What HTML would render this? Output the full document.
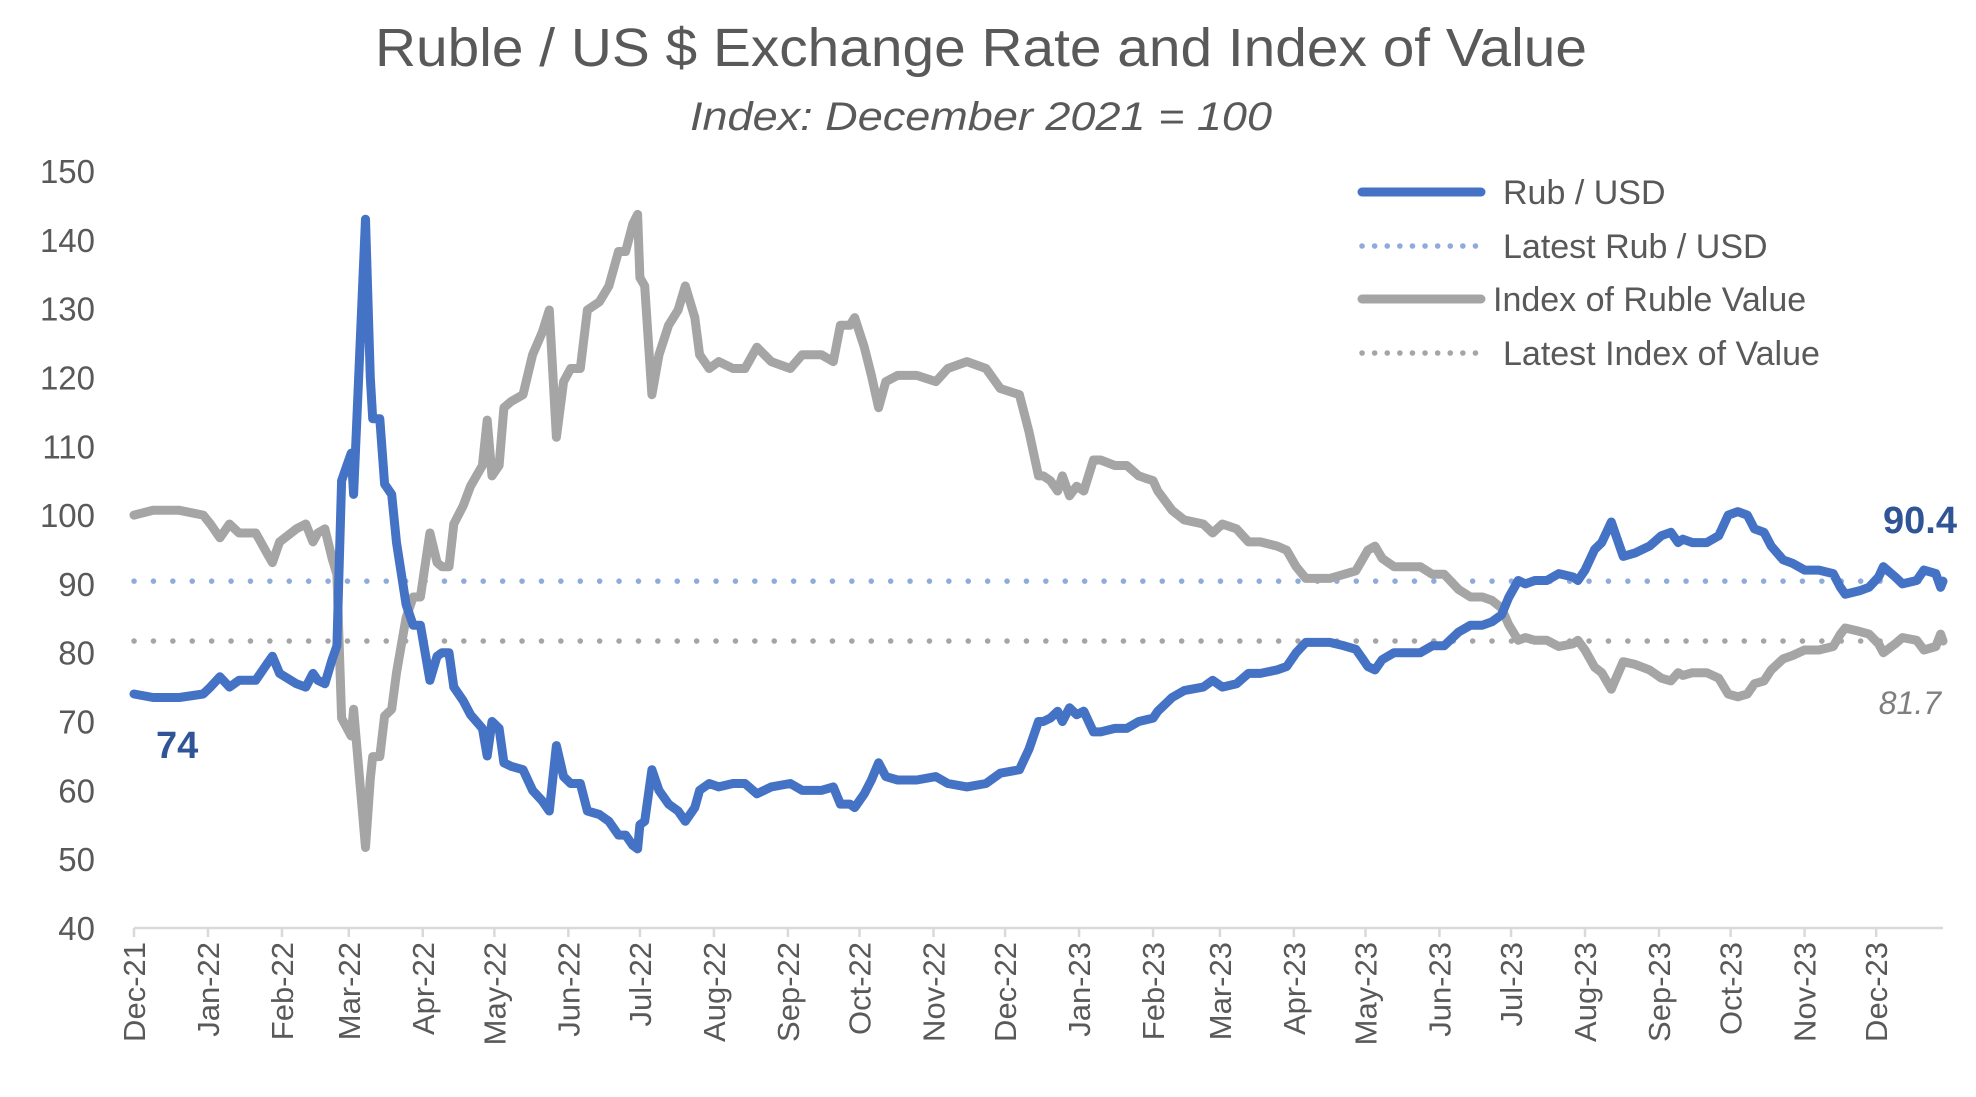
<!DOCTYPE html>
<html><head><meta charset="utf-8"><style>
html,body{margin:0;padding:0;background:#fff;}
svg{display:block;font-family:"Liberation Sans",sans-serif;}
</style></head><body>
<svg id="chart" width="1976" height="1097" viewBox="0 0 1976 1097" xmlns="http://www.w3.org/2000/svg">
<text x="981" y="66" text-anchor="middle" font-size="54" fill="#595959" textLength="1212" lengthAdjust="spacingAndGlyphs">Ruble / US $ Exchange Rate and Index of Value</text>
<text x="981" y="130" text-anchor="middle" font-size="40" font-style="italic" fill="#595959" textLength="582" lengthAdjust="spacingAndGlyphs">Index: December 2021 = 100</text>
<g id="axes"></g>
<g id="series"></g>
<g>
<g><line x1="1362" y1="192" x2="1481" y2="192" stroke="#4472C4" stroke-width="9" stroke-linecap="round"/><text x="1503" y="204" font-size="34" fill="#595959">Rub / USD</text></g>
<g><line x1="1362" y1="246" x2="1481" y2="246" stroke="#8FAADC" stroke-width="5.5" stroke-linecap="round" stroke-dasharray="0.1 12.5"/><text x="1503" y="258" font-size="34" fill="#595959">Latest Rub / USD</text></g>
<g><line x1="1362" y1="299" x2="1481" y2="299" stroke="#A5A5A5" stroke-width="9" stroke-linecap="round"/><text x="1493" y="311" font-size="34" fill="#595959">Index of Ruble Value</text></g>
<g><line x1="1362" y1="353" x2="1481" y2="353" stroke="#A5A5A5" stroke-width="5.5" stroke-linecap="round" stroke-dasharray="0.1 12.5"/><text x="1503" y="365" font-size="34" fill="#595959">Latest Index of Value</text></g>
</g>
<text x="156" y="758" font-size="38" font-weight="bold" fill="#2F5597">74</text>
<text x="1957" y="533" text-anchor="end" font-size="38" font-weight="bold" fill="#2F5597">90.4</text>
<text x="1941" y="714" text-anchor="end" font-size="32" font-style="italic" fill="#7F7F7F">81.7</text>
</svg>
<script>
const days = [0,8,19,29,32,36,40,44,51,56,58,61,68,72,75,77,80,83,85,87,89,91,92,97,99,100,103,105,108,110,114,117,120,124,127,129,132,134,138,141,146,148,150,153,155,158,163,167,171,174,177,180,183,187,190,195,199,203,206,209,211,212,214,217,220,224,228,231,235,237,241,245,251,256,261,267,275,280,288,293,296,300,302,306,309,312,315,320,328,336,341,349,357,363,371,375,379,381,384,387,389,392,395,398,402,405,411,416,421,427,429,435,440,448,452,456,462,467,472,479,483,487,491,496,501,507,512,515,517,520,523,528,539,544,549,555,560,565,569,573,576,580,583,587,592,597,603,605,608,612,615,619,621,624,629,635,640,644,647,649,653,659,664,668,672,676,679,683,686,691,695,700,706,712,715,717,723,727,731,733,738,741,747,750,755,757,758];
const rubUsd = [74,73.5,73.5,74,75,76.5,75,76,76,78.5,79.5,77,75.5,75,77,76,75.5,79,81,105,107,109,103,143,120,114,114,104.5,103,96,87,84,84,76,79.5,80,80,75,73,71,69,65,70,69,64,63.5,63,60,58.5,57,66.5,62,61,61,57,56.5,55.5,53.5,53.5,52,51.5,55,55.5,63,60,58,57,55.5,57.5,60,61,60.5,61,61,59.5,60.5,61,60,60,60.5,58,58,57.5,59.5,61.5,64,62,61.5,61.5,62,61,60.5,61,62.5,63,66,70,70,70.5,71.5,70,72,71,71.5,68.5,68.5,69,69,70,70.5,71.5,73.5,74.5,75,76,75,75.5,77,77,77.5,78,80,81.5,81.5,81.5,81,80.5,79,78,77.5,79,80,80,81,81,83,84,84,84.5,85.5,88,90.5,90,90.5,90.5,91.5,91,90.5,92,95,96,99,97,94,94.5,95.5,97,97.5,96,96.5,96,96,97,100,100.5,100,98,97.5,95.5,93.5,93,92,92,91.5,89.5,88.5,89,89.5,91,92.5,91,90,90.5,92,91.5,89.5,90.4];
const indexValue = [100,100.7,100.7,100,98.7,96.7,98.7,97.4,97.4,94.3,93.1,96.1,98,98.7,96.1,97.4,98,93.7,91.4,70.5,69.2,67.9,71.8,51.7,61.7,64.9,64.9,70.8,71.8,77.1,85.1,88.1,88.1,97.4,93.1,92.5,92.5,98.7,101.4,104.2,107.2,113.8,105.7,107.2,115.6,116.5,117.5,123.3,126.5,129.8,111.3,119.4,121.3,121.3,129.8,131,133.3,138.3,138.3,142.3,143.7,134.5,133.3,117.5,123.3,127.6,129.8,133.3,128.7,123.3,121.3,122.3,121.3,121.3,124.4,122.3,121.3,123.3,123.3,122.3,127.6,127.6,128.7,124.4,120.3,115.6,119.4,120.3,120.3,119.4,121.3,122.3,121.3,118.4,117.5,112.1,105.7,105.7,105,103.5,105.7,102.8,104.2,103.5,108,108,107.2,107.2,105.7,105,103.5,100.7,99.3,98.7,97.4,98.7,98,96.1,96.1,95.5,94.9,92.5,90.8,90.8,90.8,91.4,91.9,93.7,94.9,95.5,93.7,92.5,92.5,91.4,91.4,89.2,88.1,88.1,87.6,86.5,84.1,81.8,82.2,81.8,81.8,80.9,81.3,81.8,80.4,77.9,77.1,74.7,76.3,78.7,78.3,77.5,76.3,75.9,77.1,76.7,77.1,77.1,76.3,74,73.6,74,75.5,75.9,77.5,79.1,79.6,80.4,80.4,80.9,82.7,83.6,83.1,82.7,81.3,80,81.3,82.2,81.8,80.4,80.9,82.7,81.7];
const latestRub = 90.4;
const latestIndex = 81.7;
const yTicks = [40,50,60,70,80,90,100,110,120,130,140,150];
const monthLabels = ["Dec-21","Jan-22","Feb-22","Mar-22","Apr-22","May-22","Jun-22","Jul-22","Aug-22","Sep-22","Oct-22","Nov-22","Dec-22","Jan-23","Feb-23","Mar-23","Apr-23","May-23","Jun-23","Jul-23","Aug-23","Sep-23","Oct-23","Nov-23","Dec-23"];
const monthDays = [0,31,62,90,121,151,182,212,243,274,304,335,365,396,427,455,486,516,547,577,608,639,669,700,730];

const NS = "http://www.w3.org/2000/svg";
const X0 = 134, X1 = 1943, D1 = 758;
const Y0 = 928, Y1 = 171;
function xScale(d){ return X0 + (d / D1) * (X1 - X0); }
function yScale(v){ return Y0 - (v - 40) / 110 * (Y0 - Y1); }
function mk(tag, attrs, parent){ const e = document.createElementNS(NS, tag); for (const k in attrs) e.setAttribute(k, attrs[k]); parent.appendChild(e); return e; }

const axes = document.getElementById("axes");
const series = document.getElementById("series");

yTicks.forEach(v => {
  const t = mk("text", {x: 95, y: yScale(v) + 12, "text-anchor": "end", "font-size": 33, fill: "#595959"}, axes);
  
  
  t.textContent = v;
});
const axisLine = mk("line", {x1: X0, y1: Y0, x2: X1, y2: Y0, stroke: "#D9D9D9", "stroke-width": 2.5}, axes);


monthDays.forEach((d, i) => {
  const x = xScale(d);
  const tk = mk("line", {x1: x, y1: Y0, x2: x, y2: Y0 + 9, stroke: "#D9D9D9", "stroke-width": 2.5}, axes);
  
  
  const t = mk("text", {x: 0, y: 0, "text-anchor": "end", "font-size": 31, fill: "#595959", transform: `translate(${x + 11},${Y0 + 14}) rotate(-90)`}, axes);
  
  
  t.textContent = monthLabels[i];
});

const lr = mk("line", {x1: X0, y1: yScale(latestRub), x2: X1, y2: yScale(latestRub), stroke: "#8FAADC", "stroke-width": 5.5, "stroke-linecap": "round", "stroke-dasharray": "0.1 19.3"}, series);


const li = mk("line", {x1: X0, y1: yScale(latestIndex), x2: X1, y2: yScale(latestIndex), stroke: "#A5A5A5", "stroke-width": 5.5, "stroke-linecap": "round", "stroke-dasharray": "0.1 19.3"}, series);



function pathFor(vals){ return vals.map((v, i) => (i ? "L" : "M") + xScale(days[i]).toFixed(1) + " " + yScale(v).toFixed(1)).join(" "); }
const gi = mk("path", {d: pathFor(indexValue), fill: "none", stroke: "#A5A5A5", "stroke-width": 9, "stroke-linejoin": "round", "stroke-linecap": "round"}, series);


const br = mk("path", {d: pathFor(rubUsd), fill: "none", stroke: "#4472C4", "stroke-width": 9, "stroke-linejoin": "round", "stroke-linecap": "round"}, series);


</script>
</body></html>
